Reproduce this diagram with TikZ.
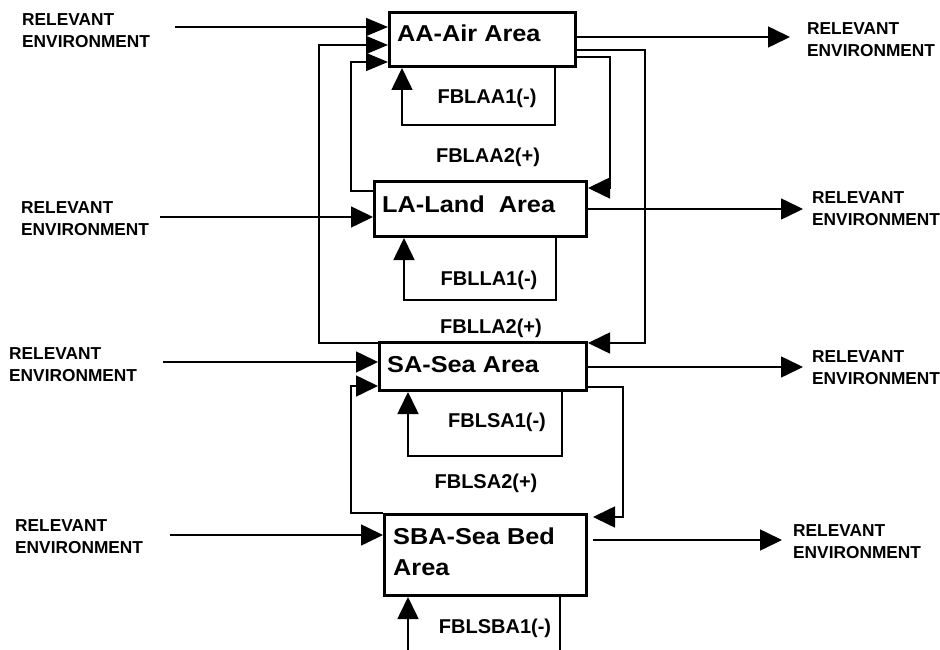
\documentclass[tikz,border=0pt]{standalone}
\usepackage{fontspec}
\setmainfont{Liberation Sans}
\newfontfamily\boxfont{Liberation Sans}[FakeStretch=1.1]
\usetikzlibrary{arrows.meta}

\tikzset{
  area/.style={draw, line width=3pt, rectangle, inner sep=0pt, anchor=north west},
  areatext/.style={inner sep=0pt, font=\boxfont\bfseries\fontsize{23}{31}\selectfont},
  envtext/.style={inner sep=0pt, anchor=west, align=left, font=\bfseries\fontsize{17.3}{22}\selectfont},
  fbtext/.style={inner sep=0pt, anchor=base, font=\bfseries\fontsize{20}{24}\selectfont},
  wire/.style={line width=1.6pt},
  tri/.style={wire, -{Triangle[length=22pt,width=21pt]}},
  trismall/.style={wire, -{Triangle[length=22pt,width=18pt]}},
}

\begin{document}
\begin{tikzpicture}[x=1pt, y=-1pt]
\useasboundingbox (0,0) rectangle (940,650);

% area boxes
\node[area, minimum width=186pt, minimum height=54pt] (aa)  at (388,11)  {};
\node[area, minimum width=212pt, minimum height=55pt] (la)  at (373,180) {};
\node[area, minimum width=207pt, minimum height=48pt] (sa)  at (378,341) {};
\node[area, minimum width=202pt, minimum height=81pt] (sba) at (383,513) {};

\node[areatext, anchor=base west] (aa-t) at (397,42)  {AA-Air Area};
\node[areatext, anchor=base west] (la-t) at (382,212) {LA-Land\ \ Area};
\node[areatext, anchor=base west] (sa-t) at (387,372) {SA-Sea Area};
\node[areatext, anchor=west, align=left] (sba-t) at (393,552) {SBA-Sea Bed\\Area};

% environment labels
\node[envtext] (env-aa-l)  at (22,30.5)  {RELEVANT\\ENVIRONMENT};
\node[envtext] (env-la-l)  at (21,219)   {RELEVANT\\ENVIRONMENT};
\node[envtext] (env-sa-l)  at (9,364.5)  {RELEVANT\\ENVIRONMENT};
\node[envtext] (env-sba-l) at (15,537)   {RELEVANT\\ENVIRONMENT};
\node[envtext] (env-aa-r)  at (807,40)   {RELEVANT\\ENVIRONMENT};
\node[envtext] (env-la-r)  at (812,209)  {RELEVANT\\ENVIRONMENT};
\node[envtext] (env-sa-r)  at (812,367.5){RELEVANT\\ENVIRONMENT};
\node[envtext] (env-sba-r) at (793,541.5){RELEVANT\\ENVIRONMENT};

% feedback loop labels
\node[fbtext] (fb-aa1)  at (487,104) {FBLAA1(-)};
\node[fbtext] (fb-aa2)  at (488,163) {FBLAA2(+)};
\node[fbtext] (fb-la1)  at (489,285) {FBLLA1(-)};
\node[fbtext] (fb-la2)  at (491,333) {FBLLA2(+)};
\node[fbtext] (fb-sa1)  at (497,427) {FBLSA1(-)};
\node[fbtext] (fb-sa2)  at (486,488) {FBLSA2(+)};
\node[fbtext] (fb-sba1) at (495,633) {FBLSBA1(-)};

% free ends and corner points
\coordinate (aa-in)  at (175,27);
\coordinate (la-in)  at (160,217);
\coordinate (sa-in)  at (163,362);
\coordinate (sba-in) at (170,535);
\coordinate (aa-out)  at (790,37);
\coordinate (la-out)  at (803,209);
\coordinate (sa-out)  at (803,367);
\coordinate (sba-out) at (782,540);

\coordinate (ol-b) at (319,343);  \coordinate (ol-t) at (319,45);
\coordinate (il-b) at (351,191);  \coordinate (il-t) at (351,62);
\coordinate (or-t) at (645,50);   \coordinate (or-b) at (645,343);
\coordinate (ir-t) at (610,57);   \coordinate (ir-b) at (610,188);
\coordinate (sl-b) at (351,513);  \coordinate (sl-t) at (351,386);
\coordinate (sr-t) at (623,387);  \coordinate (sr-b) at (623,517);

\coordinate (aa1-r) at (555,125); \coordinate (aa1-l) at (402,125);
\coordinate (la1-r) at (556,300); \coordinate (la1-l) at (404,300);
\coordinate (sa1-r) at (562,456); \coordinate (sa1-l) at (408,456);
\coordinate (sba1-r) at (560,650); \coordinate (sba1-l) at (408,650);

% inputs from the environment
\draw[trismall] (aa-in) -- (aa-in -| aa.west);
\draw[tri] (la-in) -- (la-in -| la.west);
\draw[tri] (sa-in) -- (sa-in -| sa.west);
\draw[tri] (sba-in) -- (sba-in -| sba.west);

% outputs to the environment
\draw[tri] (aa.east |- aa-out) -- (aa-out);
\draw[tri] (la.east |- la-out) -- (la-out);
\draw[tri] (sa.east |- sa-out) -- (sa-out);
\draw[tri, shorten <=5pt] (sba.east |- sba-out) -- (sba-out);

% links between areas
\draw[trismall] (sa.west |- ol-b) -- (ol-b) -- (ol-t) -- (ol-t -| aa.west);
\draw[trismall] (la.west |- il-b) -- (il-b) -- (il-t) -- (il-t -| aa.west);
\draw[tri] (aa.east |- or-t) -- (or-t) -- (or-b) -- (or-b -| sa.east);
\draw[tri] (aa.east |- ir-t) -- (ir-t) -- (ir-b) -- (ir-b -| la.east);
\draw[tri] (sba.north west) -- (sl-b) -- (sl-t) -- (sl-t -| sa.west);
\draw[tri, shorten >=5pt] (sa.east |- sr-t) -- (sr-t) -- (sr-b) -- (sr-b -| sba.east);

% self feedback loops
\draw[tri] (aa.south -| aa1-r) -- (aa1-r) -- (aa1-l) -- (aa1-l |- aa.south);
\draw[tri] (la.south -| la1-r) -- (la1-r) -- (la1-l) -- (la1-l |- la.south);
\draw[tri] (sa.south -| sa1-r) -- (sa1-r) -- (sa1-l) -- (sa1-l |- sa.south);
\draw[wire] (sba.south -| sba1-r) -- (sba1-r);
\draw[tri] (sba1-l) -- (sba1-l |- sba.south);
\end{tikzpicture}
\end{document}
